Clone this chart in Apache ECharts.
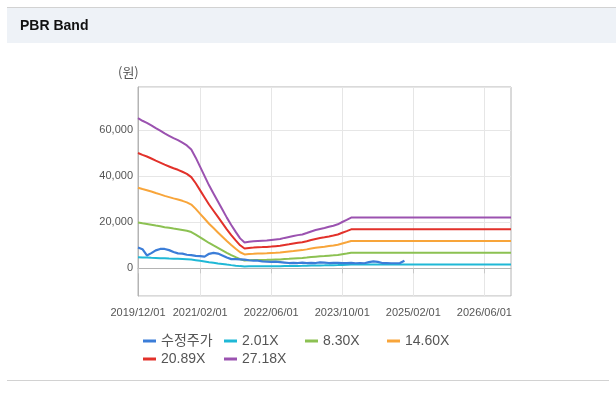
<!DOCTYPE html>
<html>
<head>
<meta charset="utf-8">
<script src="https://cdn.jsdelivr.net/npm/echarts@6/dist/echarts.min.js"></script>
<style>
html,body{margin:0;padding:0;background:#fff;}
#c{width:616px;height:394px;}
</style>
</head>
<body>
<div id="c"></div>
<script>
var categories = [
'2019/12/01',
'2020/01/01','2020/02/01','2020/03/01','2020/04/01','2020/05/01','2020/06/01','2020/07/01','2020/08/01','2020/09/01','2020/10/01','2020/11/01','2020/12/01',
'2021/01/01','2021/02/01','2021/03/01','2021/04/01','2021/05/01','2021/06/01','2021/07/01','2021/08/01','2021/09/01','2021/10/01','2021/11/01','2021/12/01',
'2022/01/01','2022/02/01','2022/03/01','2022/04/01','2022/05/01','2022/06/01','2022/07/01','2022/08/01','2022/09/01','2022/10/01','2022/11/01','2022/12/01',
'2023/01/01','2023/02/01','2023/03/01','2023/04/01','2023/05/01','2023/06/01','2023/07/01','2023/08/01','2023/09/01','2023/10/01','2023/11/01','2023/12/01',
'2024/01/01','2024/02/01','2024/03/01','2024/04/01','2024/05/01','2024/06/01','2024/07/01','2024/08/01','2024/09/01','2024/10/01','2024/11/01','2024/12/01',
'2025/01/01','2025/02/01','2025/03/01','2025/04/01','2025/05/01','2025/06/01','2025/07/01','2025/08/01','2025/09/01','2025/10/01','2025/11/01','2025/12/01',
'2026/01/01','2026/02/01','2026/03/01','2026/04/01','2026/05/01','2026/06/01','2026/07/01','2026/08/01','2026/09/01','2026/10/01','2026/11/01','2026/12/01'
];
var xTickLabels = ['2019/12/01','2021/02/01','2022/06/01','2023/10/01','2025/02/01','2026/06/01'];
var seriesNames = ['수정주가','2.01X','8.30X','14.60X','20.89X','27.18X'];

var price = [9000,8300,5600,6600,7800,8400,8400,7900,7100,6500,6400,5900,5700,5400,5300,5100,6300,6700,6400,5600,
4700,4000,4000,3900,3800,3500,3300,3300,3000,2900,2800,2900,2700,2500,2300,2400,2300,2500,2300,2400,
2300,2600,2500,2300,2400,2400,2300,2300,2400,2200,2300,2200,2700,3000,2800,2300,2300,2200,2200,2300,3300];

var band201 = [4810,4730,4670,4580,4500,4410,4330,4250,4180,4110,4030,3940,3810,3550,3250,2960,2660,2400,2140,1890,
1630,1390,1170,960,830,850,870,880,890,890,910,920,940,980,1010,1040,1060,1090,1130,1180,
1230,1260,1290,1330,1370,1410,1490,1550,
1630,1630,1630,1630,1630,1630,1630,1630,1630,1630,1630,1630,1630,1630,1630,1630,1630,1630,1630,1630,
1630,1630,1630,1630,1630,1630,1630,1630,1630,1630,1630,1630,1630,1630,1630,1630,1630];

var band830 = [19880,19540,19270,18930,18570,18230,17860,17560,17250,16980,16640,16280,15730,14660,13440,12210,10990,9920,8860,7790,
6720,5740,4820,3970,3420,3510,3570,3630,3660,3690,3760,3820,3880,4030,4150,4280,4400,4490,4670,4890,
5070,5220,5340,5500,5650,5830,6140,6410,
6720,6720,6720,6720,6720,6720,6720,6720,6720,6720,6720,6720,6720,6720,6720,6720,6720,6720,6720,6720,
6720,6720,6720,6720,6720,6720,6720,6720,6720,6720,6720,6720,6720,6720,6720,6720,6720];

var band1460 = [34970,34380,33900,33300,32660,32070,31420,30890,30350,29870,29280,28630,27660,25780,23640,21490,19340,17460,15580,13700,
11820,10100,8490,6980,6020,6180,6280,6390,6450,6500,6610,6710,6820,7090,7310,7520,7740,7900,8220,8590,
8920,9190,9400,9670,9940,10260,10800,11280,
11820,11820,11820,11820,11820,11820,11820,11820,11820,11820,11820,11820,11820,11820,11820,11820,11820,11820,11820,11820,
11820,11820,11820,11820,11820,11820,11820,11820,11820,11820,11820,11820,11820,11820,11820,11820,11820];

var band2089 = [50030,49190,48500,47650,46730,45880,44960,44190,43420,42730,41890,40970,39580,36890,33820,30740,27670,24980,22290,19600,
16910,14450,12140,9990,8610,8840,8990,9150,9220,9300,9450,9610,9760,10150,10450,10760,11070,11300,11760,12300,
12760,13140,13450,13830,14220,14680,15450,16140,
16910,16910,16910,16910,16910,16910,16910,16910,16910,16910,16910,16910,16910,16910,16910,16910,16910,16910,16910,16910,
16910,16910,16910,16910,16910,16910,16910,16910,16910,16910,16910,16910,16910,16910,16910,16910,16910];

var band2718 = [65100,64000,63100,62000,60800,59700,58500,57500,56500,55600,54500,53300,51500,48000,44000,40000,36000,32500,29000,25500,
22000,18800,15800,13000,11200,11500,11700,11900,12000,12100,12300,12500,12700,13200,13600,14000,14400,14700,15300,16000,
16600,17100,17500,18000,18500,19100,20100,21000,
22000,22000,22000,22000,22000,22000,22000,22000,22000,22000,22000,22000,22000,22000,22000,22000,22000,22000,22000,22000,
22000,22000,22000,22000,22000,22000,22000,22000,22000,22000,22000,22000,22000,22000,22000,22000,22000];

var colors = ['#3b7dd8','#1fb8d6','#8cc152','#f8a53a','#e2312a','#9b52b0'];
var seriesData = [price, band201, band830, band1460, band2089, band2718];

var showIdx = function (idx) { return xTickLabels.indexOf(categories[idx]) >= 0; };
var fmt = function (v) {
  if (v % 20000 !== 0) return '';
  return String(v).replace(/\B(?=(\d{3})+(?!\d))/g, ',');
};

var legendPos = [[138,329],[219,329],[300,329],[382,329],[138,347],[219,347]];
var legends = seriesNames.map(function (n, i) {
  return {
    data: [n], left: legendPos[i][0], top: legendPos[i][1],
    icon: 'rect', itemWidth: 13, itemHeight: 3, itemGap: 0,
    textStyle: {fontSize: 14, color: '#555', fontFamily: 'Liberation Sans, Noto Sans CJK KR'}
  };
});

var series = seriesNames.map(function (n, i) {
  return {
    name: n, type: 'line', data: seriesData[i], showSymbol: false, symbol: 'none',
    lineStyle: {width: i === 0 ? 2.2 : 2, color: colors[i]}, itemStyle: {color: colors[i]},
    z: i === 0 ? 4 : 2, animation: false
  };
});

var chart = echarts.init(document.getElementById('c'), null, {renderer: 'canvas'});
chart.setOption({
  animation: false,
  color: colors,
  grid: {left: 138, top: 87, width: 373, height: 209, show: true, borderColor: '#b4b4b4', borderWidth: 1, backgroundColor: '#fff'},
  legend: legends,
  xAxis: {
    type: 'category', data: categories, boundaryGap: false,
    axisLine: {lineStyle: {color: '#b4b4b4'}},
    axisTick: {show: true, interval: function (i) { return showIdx(i); }, length: 5, lineStyle: {color: '#c8c8c8'}},
    axisLabel: {interval: function (i) { return showIdx(i); }, color: '#555', fontSize: 11, margin: 11, fontFamily: 'Liberation Sans'},
    splitLine: {show: true, interval: function (i) { return showIdx(i); }, lineStyle: {color: '#e6e6e6'}}
  },
  yAxis: {
    type: 'value', min: -12000, max: 78650, splitNumber: 5,
    axisLine: {show: true, lineStyle: {color: '#b4b4b4'}},
    axisTick: {show: false},
    axisLabel: {formatter: fmt, color: '#555', fontSize: 11, margin: 5, fontFamily: 'Liberation Sans'},
    splitLine: {show: true, lineStyle: {color: '#e6e6e6'}}
  },
  graphic: [
    {type: 'rect', left: 7, top: 8, shape: {width: 609, height: 35}, style: {fill: '#eef2f7'}, silent: true},
    {type: 'rect', left: 7, top: 7, shape: {width: 609, height: 1}, style: {fill: '#d2d2d2'}, silent: true},
    {type: 'text', left: 20, top: 19, style: {text: 'PBR Band', font: 'bold 14px "Liberation Sans"', fill: '#111'}},
    {type: 'text', left: 118, top: 66, style: {text: '(원)', font: '13px "Noto Sans CJK KR"', fill: '#555'}},
    {type: 'rect', left: 7, top: 380, shape: {width: 602, height: 1}, style: {fill: '#d2d2d2'}, silent: true}
  ],
  series: series
});
</script>
</body>
</html>
